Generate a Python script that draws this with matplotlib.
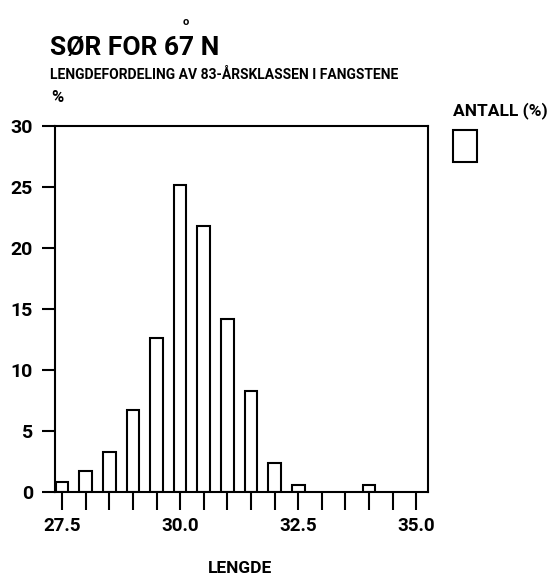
import matplotlib
matplotlib.use("Agg")
import matplotlib.pyplot as plt
from matplotlib.patches import Rectangle

lengths = [27.5, 28.0, 28.5, 29.0, 29.5, 30.0, 30.5, 31.0, 31.5, 32.0, 32.5, 33.0, 33.5, 34.0, 34.5, 35.0]
percent = [0.8, 1.7, 3.3, 6.7, 12.6, 25.2, 21.8, 14.2, 8.3, 2.4, 0.6, 0.0, 0.0, 0.6, 0.0, 0.0]
labelled = ["27.5", "30.0", "32.5", "35.0"]
yticks = [0, 5, 10, 15, 20, 25, 30]

FONT = dict(family=["Roboto", "DejaVu Sans"], weight="bold")
LW = 1.5

W, H = 558, 576
fig = plt.figure(figsize=(W/100, H/100), dpi=100)
ax = fig.add_axes([55/W, 1-492/H, (428-55)/W, (492-126)/H])

bars_x = [l for l, p in zip(lengths, percent) if p > 0]
bars_h = [p for p in percent if p > 0]
ax.bar(bars_x, bars_h, width=0.27, color="white", edgecolor="black", linewidth=LW)

ax.set_xlim(27.35, 35.25)
ax.set_ylim(0, 30)
ax.set_yticks(yticks)
ax.set_yticklabels([str(v) for v in yticks], fontsize=14, **FONT)
ax.set_xticks(lengths)
ax.set_xticklabels([s if s in labelled else "" for s in [f"{v:.1f}" for v in lengths]], fontsize=13.5, **FONT)
ax.tick_params(axis="y", length=9.5, width=LW, pad=6.5)
ax.tick_params(axis="x", length=13, width=LW, pad=5)
for s in ax.spines.values():
    s.set_linewidth(LW)

fig.text(240/W, 1-573/H, "LENGDE", fontsize=12.5, ha="center", va="baseline", **FONT)

fig.text(50/W, 1-55/H, "SØR FOR 67 N", fontsize=19, ha="left", va="baseline", **FONT)
fig.text(183/W, 1-25/H, "o", fontsize=8, ha="left", va="baseline", **FONT)
fig.text(50/W, 1-79/H, "LENGDEFORDELING AV 83-ÅRSKLASSEN I FANGSTENE", fontsize=10, ha="left", va="baseline", **FONT)
fig.text(51/W, 1-102/H, "%", fontsize=12, ha="left", va="baseline", **FONT)
fig.text(453/W, 1-115/H, "ANTALL (%)", fontsize=12.5, ha="left", va="baseline", **FONT)
fig.patches.append(Rectangle((453/W, 1-162/H), 24/W, 32/H, transform=fig.transFigure,
                             facecolor="white", edgecolor="black", linewidth=LW))

fig.savefig("out.png", dpi=100)
